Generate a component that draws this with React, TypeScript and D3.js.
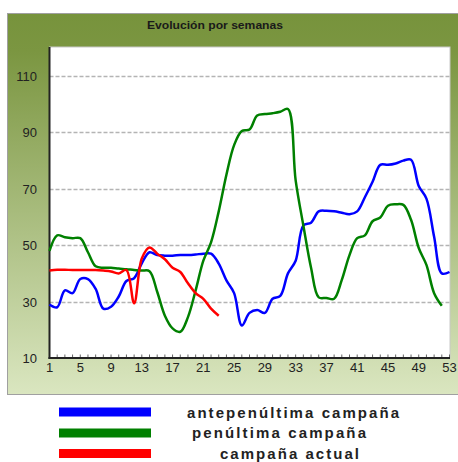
import React, { useEffect, useRef } from 'react'
import * as d3 from 'd3'

// semanas 1..53
const weekLabels = [1, 5, 9, 13, 17, 21, 25, 29, 33, 37, 41, 45, 49, 53]
const yTicks = [10, 30, 50, 70, 90, 110]

const antepenultima = [
    29, 28, 34, 33, 38, 38, 34.5, 27.5, 28.2, 31.8, 37.3, 38.3, 43.6, 47.5, 46.5,
    46.3, 46.3, 46.5, 46.5, 46.7, 47, 47, 43.5, 37.5, 33, 21.5, 26, 27, 26, 31,
    32, 40, 44.5, 57, 58, 62, 62.2, 62, 61.5, 61, 62, 67, 72.5, 78.5, 78.5, 79,
    80, 80.3, 71, 66.5, 53, 40, 40.5,
]
const penultima = [
    48, 53.5, 52.8, 52.5, 52.5, 47.5, 42.5, 42, 42, 41.7, 41.5, 41.2, 41, 40.8,
    33.5, 25, 20.5, 19.3, 24.5, 34, 44.5, 51, 62, 75, 85.5, 90.5, 91, 96, 96.5,
    96.8, 97.3, 98.3, 73, 57, 42, 31.5, 31.3, 31, 37.7, 46.5, 52.5, 53.5, 58.5,
    59.8, 64, 64.5, 64.3, 59, 49, 43, 33, 28.5,
]
const actual = [
    41, 41.3, 41.3, 41.2, 41.2, 41.2, 41.2, 41, 40.7, 40, 41.2, 29.4, 45.3, 49.2,
    47, 45, 42, 40.5, 36.5, 33, 31, 27.5, 25,
]

const series = [
    { name: 'antepenúltima campaña', values: antepenultima, color: '#0000ff' },
    { name: 'penúltima campaña', values: penultima, color: '#008000' },
    { name: 'campaña actual', values: actual, color: '#ff0000' },
]

export default function App() {
    const svgRef = useRef<SVGSVGElement>(null)

    const width = 458
    const height = 462

    useEffect(() => {
        const svg = d3.select(svgRef.current)
        svg.selectAll('*').remove()

        const x = d3.scaleLinear().domain([1, 53]).range([49.5, 449.5])
        const y = d3.scaleLinear().domain([10, 120]).range([358, 47.8])

        const defs = svg.append('defs')
        const grad = defs
            .append('linearGradient')
            .attr('id', 'bg')
            .attr('x1', 0)
            .attr('y1', 0)
            .attr('x2', 0)
            .attr('y2', 1)
        grad.append('stop').attr('offset', '0').attr('stop-color', '#77933c')
        grad.append('stop').attr('offset', '0.1').attr('stop-color', '#7b9641')
        grad.append('stop').attr('offset', '1').attr('stop-color', '#dae6c0')

        // panel
        svg.append('rect')
            .attr('x', 7.5)
            .attr('y', 13.5)
            .attr('width', 455)
            .attr('height', 381)
            .attr('fill', 'url(#bg)')
            .attr('stroke', '#a0a0a0')

        // plot area
        svg.append('rect')
            .attr('x', 49.5)
            .attr('y', 47)
            .attr('width', 400.5)
            .attr('height', 311)
            .attr('fill', '#fff')
            .attr('stroke', '#c8c8c8')

        svg.append('g')
            .selectAll('line')
            .data(yTicks.slice(1))
            .enter()
            .append('line')
            .attr('x1', 49.5)
            .attr('x2', 450)
            .attr('y1', (d) => Math.round(y(d)) + 0.5)
            .attr('y2', (d) => Math.round(y(d)) + 0.5)
            .attr('stroke', '#b4b4b4')
            .attr('stroke-width', 1.5)
            .attr('stroke-dasharray', '4,2')

        svg.append('g')
            .selectAll('text')
            .data(yTicks)
            .enter()
            .append('text')
            .attr('x', 37)
            .attr('y', (d) => y(d) + 5)
            .attr('text-anchor', 'end')
            .attr('font-family', 'Liberation Sans, Arial, sans-serif')
            .attr('font-size', 13)
            .attr('fill', '#222')
            .text((d) => d)

        // minor ticks
        svg.append('g')
            .selectAll('line')
            .data(d3.range(1, 54))
            .enter()
            .append('line')
            .attr('x1', (d) => x(d))
            .attr('x2', (d) => x(d))
            .attr('y1', 358)
            .attr('y2', 354.5)
            .attr('stroke', '#666')

        svg.append('line')
            .attr('x1', 49.5)
            .attr('x2', 49.5)
            .attr('y1', 47)
            .attr('y2', 359)
            .attr('stroke', '#222')
            .attr('stroke-width', 2)
        svg.append('line')
            .attr('x1', 48.5)
            .attr('x2', 450)
            .attr('y1', 358)
            .attr('y2', 358)
            .attr('stroke', '#222')
            .attr('stroke-width', 2)

        svg.append('g')
            .selectAll('text')
            .data(weekLabels)
            .enter()
            .append('text')
            .attr('x', (d) => x(d))
            .attr('y', 372)
            .attr('text-anchor', 'middle')
            .attr('font-family', 'Liberation Sans, Arial, sans-serif')
            .attr('font-size', 13)
            .attr('fill', '#222')
            .text((d) => d)

        const line = d3
            .line<number>()
            .x((d, i) => x(i + 1))
            .y((d) => y(d))
            .curve(d3.curveCatmullRom.alpha(0.5))

        series.forEach((s) => {
            svg.append('path')
                .attr('d', line(s.values))
                .attr('fill', 'none')
                .attr('stroke', s.color)
                .attr('stroke-width', 2.5)
                .attr('stroke-linejoin', 'round')
        })

        svg.append('text')
            .attr('x', 215)
            .attr('y', 29)
            .attr('text-anchor', 'middle')
            .attr('font-family', 'Liberation Sans, Arial, sans-serif')
            .attr('font-size', 11)
            .attr('font-weight', 'bold')
            .attr('fill', '#1a1a1a')
            .attr('textLength', 136)
            .attr('lengthAdjust', 'spacingAndGlyphs')
            .text('Evolución por semanas')

        // legend
        const legendY = [407.5, 428.5, 449]
        const legendText = [
            { x: 187, w: 212, base: 418 },
            { x: 192, w: 174, base: 438 },
            { x: 220, w: 139, base: 458.5 },
        ]
        series.forEach((s, i) => {
            svg.append('rect')
                .attr('x', 59)
                .attr('y', legendY[i])
                .attr('width', 92)
                .attr('height', 9)
                .attr('fill', s.color)
            svg.append('text')
                .attr('x', legendText[i].x)
                .attr('y', legendText[i].base)
                .attr('font-family', 'Liberation Sans, Arial, sans-serif')
                .attr('font-size', 15)
                .attr('font-weight', 'bold')
                .attr('fill', '#222')
                .attr('textLength', legendText[i].w)
                .attr('lengthAdjust', 'spacing')
                .text(s.name)
        })
    }, [])

    return (
        <svg
            ref={svgRef}
            width={width}
            height={height}
            style={{ position: 'absolute', left: 0, top: 0 }}
        />
    )
}
